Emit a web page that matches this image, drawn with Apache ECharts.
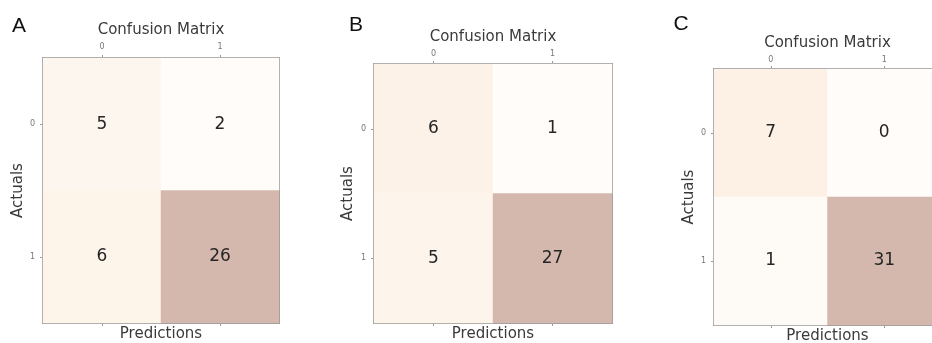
<!DOCTYPE html>
<html>
<head>
<meta charset="utf-8">
<script src="https://cdn.jsdelivr.net/npm/echarts@6/dist/echarts.min.js"></script>
<style>
html,body{margin:0;padding:0;background:#fff;}
#chart{width:932px;height:343px;}
</style>
</head>
<body>
<div id="chart"></div>
<script>
// ---- data ----
const categories = ['0', '1'];
const panelLetters = ['A', 'B', 'C'];
const chartTitle = 'Confusion Matrix';
const xName = 'Predictions';
const yName = 'Actuals';
// rows = actual class, columns = predicted class
const matrixA = [[5, 2], [6, 26]];
const matrixB = [[6, 1], [5, 27]];
const matrixC = [[7, 0], [1, 31]];
const matrices = [matrixA, matrixB, matrixC];

// ---- layout / style (not data) ----
const grids = [
  {left: 43, top: 58, width: 236, height: 265},
  {left: 374, top: 64, width: 238, height: 259},
  {left: 714, top: 69, width: 227, height: 256}
];
const letterPos = [[19, 26], [356, 25], [681, 24]];
const titleGap = [17, 16, 15];
const labelMargin = [7, 6, 5];
const yNameGap = [17, 18, 16];
const colorStops = ['#fffcf9', '#fdf6ee', '#fdefe2', '#fbe5d2', '#f8dac3', '#f2cfb8', '#e9c5b2', '#ddbdaf', '#d4b8ae'];
const mplFont = 'DejaVu Sans';
const textColor = '#3a3a3a';

const chart = echarts.init(document.getElementById('chart'), null, {renderer: 'canvas'});

const option = {
  backgroundColor: '#fff',
  animation: false,
  grid: [], xAxis: [], yAxis: [], visualMap: [], series: [],
  graphic: []
};

matrices.forEach((m, i) => {
  const g = grids[i];
  option.grid.push({
    left: g.left, top: g.top, width: g.width, height: g.height,
    containLabel: false, outerBoundsMode: 'none',
    show: true, borderColor: '#999', borderWidth: 2, backgroundColor: 'transparent'
  });
  // top axis with labels and title
  option.xAxis.push({
    type: 'category', data: categories, gridIndex: i, position: 'top',
    name: chartTitle, nameLocation: 'middle', nameGap: titleGap[i],
    nameTextStyle: {fontFamily: mplFont, fontSize: 15, color: textColor},
    axisLine: {show: false},
    axisTick: {show: true, alignWithLabel: true, length: 3, lineStyle: {color: '#999'}},
    axisLabel: {fontFamily: mplFont, fontSize: 8, color: '#777', margin: labelMargin[i]},
    splitLine: {show: false}
  });
  // bottom axis with ticks and name
  option.xAxis.push({
    type: 'category', data: categories, gridIndex: i, position: 'bottom',
    name: xName, nameLocation: 'middle', nameGap: 4,
    nameTextStyle: {fontFamily: mplFont, fontSize: 15, color: textColor},
    axisLine: {show: false},
    axisTick: {show: true, alignWithLabel: true, length: 3, lineStyle: {color: '#999'}},
    axisLabel: {show: false},
    splitLine: {show: false}
  });
  option.yAxis.push({
    type: 'category', data: categories, gridIndex: i, inverse: true,
    name: yName, nameLocation: 'middle', nameGap: yNameGap[i], nameRotate: 90,
    nameTextStyle: {fontFamily: mplFont, fontSize: 15, color: textColor},
    axisLine: {show: false},
    axisTick: {show: true, alignWithLabel: true, length: 3, lineStyle: {color: '#999'}},
    axisLabel: {fontFamily: mplFont, fontSize: 8, color: '#777', margin: 8},
    splitLine: {show: false}
  });
  const flat = m.flat();
  option.visualMap.push({
    type: 'continuous', show: false, seriesIndex: i, dimension: 2,
    min: Math.min(...flat), max: Math.max(...flat),
    inRange: {color: colorStops}
  });
  const data = [];
  m.forEach((row, r) => row.forEach((v, c) => data.push([c, r, v])));
  option.series.push({
    type: 'heatmap', xAxisIndex: i * 2, yAxisIndex: i, data: data,
    label: {show: true, formatter: p => String(p.value[2]), fontFamily: mplFont, fontSize: 17, color: '#262626'},
    itemStyle: {borderWidth: 0},
    emphasis: {disabled: true}
  });
  option.graphic.push({
    type: 'text', x: letterPos[i][0], y: letterPos[i][1],
    style: {text: panelLetters[i], fontFamily: 'Liberation Sans', fontSize: 21, fill: '#111', align: 'center', verticalAlign: 'middle'}
  });
});

chart.setOption(option);
</script>
</body>
</html>
